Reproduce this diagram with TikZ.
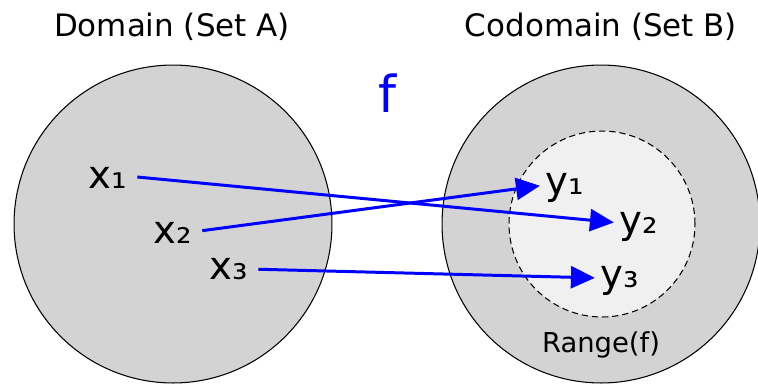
\documentclass[tikz,border=0pt]{standalone}
\usepackage{fontspec}
\setmainfont{DejaVu Sans}
\usepackage{xcolor}
\usepackage{tikz}
\usetikzlibrary{arrows.meta,positioning}
\definecolor{setgray}{RGB}{211,211,211}
\definecolor{rangegray}{RGB}{240,240,240}
\tikzset{
  setdisk/.style   = {circle, draw=black, line width=0.6pt, fill=setgray,
                      inner sep=0pt, minimum size=6.36cm},
  rangedisk/.style = {circle, draw=black, line width=0.6pt, dashed,
                      dash pattern=on 3.6pt off 2.2pt, fill=rangegray,
                      inner sep=0pt, minimum size=3.72cm},
  settitle/.style  = {font=\fontsize{17.6}{20}\selectfont, inner sep=0pt},
  elem/.style      = {font=\fontsize{22}{24}\selectfont, inner sep=0pt},
  fname/.style     = {font=\fontsize{29}{32}\selectfont, text=blue, inner sep=0pt},
  rangelbl/.style  = {font=\fontsize{15.6}{18}\selectfont, inner sep=0pt},
  maparrow/.style  = {-{Triangle[length=13.6pt,width=12.5pt]}, draw=blue,
                      line width=1.7pt, shorten <=5.6pt, shorten >=3.2pt},
}
\begin{document}
\begin{tikzpicture}[x=0.02cm, y=-0.02cm]
  \useasboundingbox (0,0) rectangle (758,383);

  \node[setdisk]   (A)   at (173,224) {};
  \node[setdisk]   (B)   at (601,224) {};
  \node[rangedisk] (rng) at (602,224) {};

  \node[settitle] (tA) at (172,27) {Domain (Set A)};
  \node[settitle] (tB) at (601,27) {Codomain (Set B)};
  \node[fname]    (f)  at (387,93) {f};
  \node[rangelbl] (rl) at (601,345) {Range(f)};

  \node[elem] (x1) at (108,178) {x₁};
  \node[elem] (x2) at (173,233) {x₂};
  \node[elem] (x3) at (229,269) {x₃};
  \node[elem] (y1) at (565,188) {y₁};
  \node[elem] (y2) at (639,227) {y₂};
  \node[elem] (y3) at (620,281) {y₃};

  \draw[maparrow] ([yshift=1.1pt]x1.east) -- ([yshift=2.3pt]y2.west);
  \draw[maparrow] ([yshift=0.6pt]x2.east) -- ([yshift=1.7pt]y1.west);
  \draw[maparrow] (x3.east) -- ([yshift=1.7pt]y3.west);
\end{tikzpicture}
\end{document}
